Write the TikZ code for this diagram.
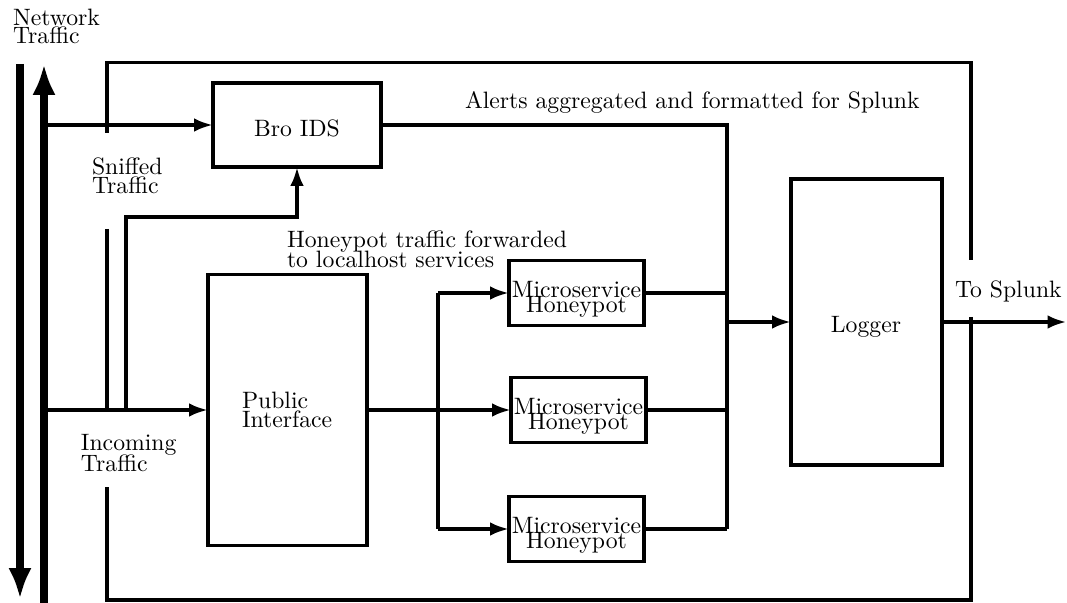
\documentclass[tikz,border=0pt]{standalone}
\usetikzlibrary{arrows.meta}
\newcommand\pxu{0.422pt}
\begin{document}
\begin{tikzpicture}[x=0.422pt,y=-0.422pt,
  box/.style={draw,line width=1.6pt,inner sep=0pt,outer sep=0pt},
  wire/.style={line width=1.6pt},
  bnd/.style={line width=1.4pt},
  arr/.style={wire,-{Latex[length=8pt,width=5.8pt]}},
  net/.style={line width=3.2pt,-{Latex[length=13pt,width=9.8pt]}},
  txt/.style={inner sep=0pt,outer sep=0pt,font=\fontsize{10}{12}\selectfont},
  ltxt/.style={txt,anchor=north west,align=left},
  mstxt/.style={txt,anchor=north,align=center},
]
\useasboundingbox (0,0) rectangle (1067,603);

% network traffic lines
\coordinate (dnTop) at (20,64);
\coordinate (dnBot) at (20,599);
\coordinate (upBot) at (44,603);
\coordinate (upTop) at (44,64);
\draw[net] (dnTop) -- (dnBot);
\draw[net] (upBot) -- (upTop);

% boxes
\node[box,minimum width=168*\pxu,minimum height=84*\pxu] (bro) at (297,125) {};
\node[box,minimum width=159*\pxu,minimum height=271*\pxu] (pub) at (287.5,410) {};
\node[box,minimum width=135*\pxu,minimum height=65*\pxu] (ms1) at (576.5,293) {};
\node[box,minimum width=135*\pxu,minimum height=65*\pxu] (ms2) at (578.5,410) {};
\node[box,minimum width=135*\pxu,minimum height=65*\pxu] (ms3) at (576.5,529) {};
\node[box,minimum width=151*\pxu,minimum height=286*\pxu] (log) at (866.5,322) {};

% box texts
\node[txt,anchor=base] (brot) at (297,137) {Bro IDS};
\node[txt,anchor=base] (logt) at (866,333) {Logger};
\node[ltxt] (pubt) at (242,392) {Public\\[-4pt]Interface};
\node[mstxt] (ms1t) at ([yshift=-20.5*\pxu]ms1.north) {Microservice\\[-5.7pt]Honeypot};
\node[mstxt] (ms2t) at ([yshift=-20.5*\pxu]ms2.north) {Microservice\\[-5.7pt]Honeypot};
\node[mstxt] (ms3t) at ([yshift=-20.5*\pxu]ms3.north) {Microservice\\[-5.7pt]Honeypot};

% free labels
\node[ltxt] (netl) at (13,9) {Network\\[-4.4pt]Traffic};
\node[ltxt] (sniffl) at (92,158) {Sniffed\\[-4pt]Traffic};
\node[ltxt] (inl) at (81,434) {Incoming\\[-3.1pt]Traffic};
\node[ltxt] (hpl) at (287,231) {Honeypot traffic forwarded\\[-3.6pt]to localhost services};
\node[ltxt] (alertl) at (465,92) {Alerts aggregated and formatted for Splunk};
\node[ltxt] (splunkl) at (955,281) {To Splunk};

% boundary
\coordinate (b1) at (107,133);
\coordinate (b2) at (107,62.5);
\coordinate (b3) at (971,62.5);
\coordinate (b4) at (971,260);
\coordinate (b5) at (971,317);
\coordinate (b6) at (971,600);
\coordinate (b7) at (107,600);
\coordinate (b8) at (107,487);
\coordinate (b9) at (107,229);
\coordinate (b10) at (107,410);
\draw[bnd] (b1) -- (b2) -- (b3) -- (b4);
\draw[bnd] (b5) -- (b6) -- (b7) -- (b8);
\draw[bnd] (b9) -- (b10);

% sniffed and incoming traffic
\coordinate (sniffSrc) at (44,125);
\coordinate (inSrc) at (44,410);
\draw[arr] (sniffSrc) -- (bro.west);
\draw[arr] (inSrc) -- (pub.west);
\coordinate (tap) at (126,410);
\coordinate (bend) at (297,217);
\draw[arr] (tap) |- (bend) -- (bro.south);

% fan-out to honeypots
\coordinate (split) at (438,410);
\coordinate (splitTop) at (438,293);
\coordinate (splitBot) at (438,529);
\draw[wire] (pub.east) -- (split);
\draw[wire] (splitTop) -- (splitBot);
\draw[arr] (splitTop) -- (ms1.west);
\draw[arr] (split) -- (ms2.west);
\draw[arr] (splitBot) -- (ms3.west);

% collection to logger
\coordinate (colTop) at (727,125);
\coordinate (colBot) at (727,529);
\coordinate (colMid) at (727,322);
\draw[wire] (bro.east) -- (colTop) -- (colBot);
\draw[wire] (ms1.east) -- (ms1.east -| colTop);
\draw[wire] (ms2.east) -- (ms2.east -| colTop);
\draw[wire] (ms3.east) -- (ms3.east -| colTop);
\draw[arr] (colMid) -- (log.west);
\coordinate (splunk) at (1066.5,322);
\draw[arr] (log.east) -- (splunk);
\end{tikzpicture}
\end{document}
